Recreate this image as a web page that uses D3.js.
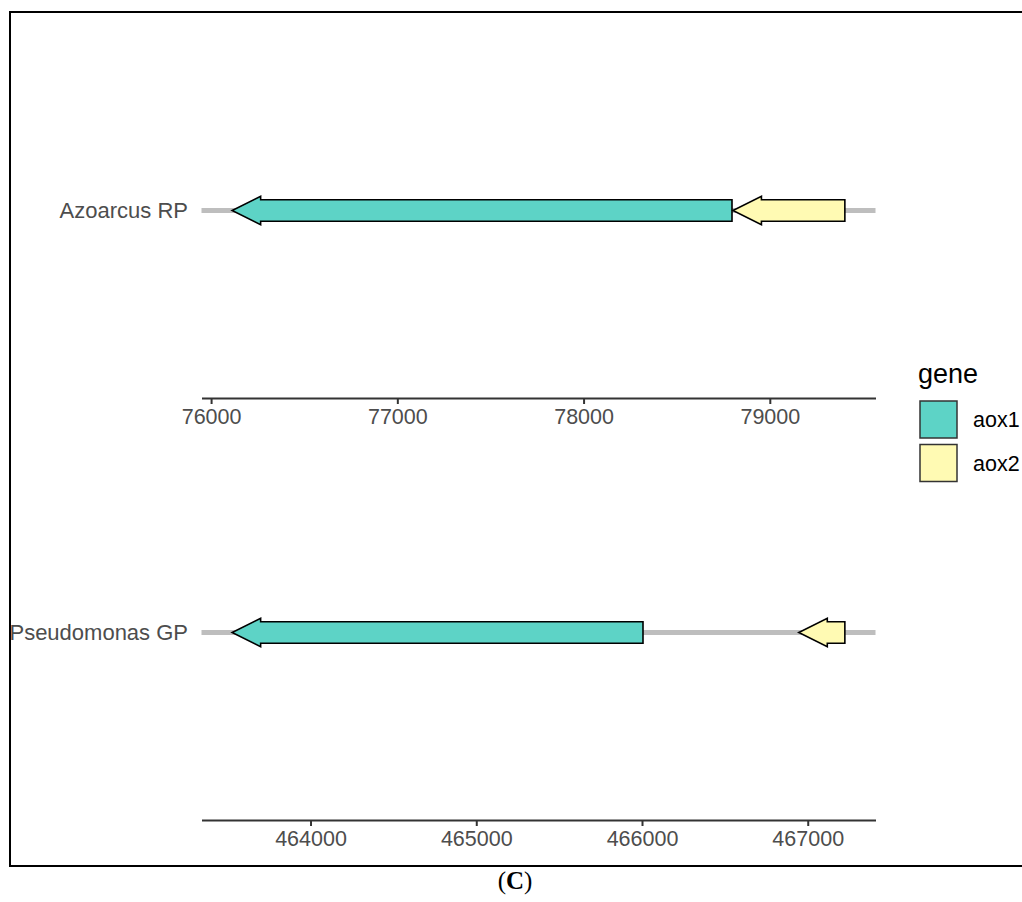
<!DOCTYPE html>
<html>
<head>
<meta charset="utf-8">
<script src="https://cdn.jsdelivr.net/npm/d3@7"></script>
<style>
  html, body { margin: 0; padding: 0; background: #fff; }
  svg { display: block; }
</style>
</head>
<body>
<svg id="chart" width="1022" height="902"></svg>
<script>
// ---- data ----
const molecules = ["Azoarcus RP", "Pseudomonas GP"];
const geneKeys = ["aox1", "aox2"];
const geneColors = ["#5dd3c6", "#fffab3"];
const rowMolecule = ["Azoarcus RP", "Azoarcus RP", "Pseudomonas GP", "Pseudomonas GP"];
const rowGene = ["aox1", "aox2", "aox1", "aox2"];
const rowStart = [78797, 79403, 466006, 467224];
const rowEnd = [76113, 78802, 463527, 466946];

const genes = rowMolecule.map((m, i) => ({ molecule: m, gene: rowGene[i], start: rowStart[i], end: rowEnd[i] }));

const svg = d3.select("#chart");
const font = "'Liberation Sans', Arial, Helvetica, sans-serif";

// frame
svg.append("rect").attr("x", 10).attr("y", 12).attr("width", 1040).attr("height", 854)
  .attr("fill", "none").attr("stroke", "#000").attr("stroke-width", 2);

const color = d3.scaleOrdinal().domain(geneKeys).range(geneColors);

const panelLeft = 201.5, panelRight = 875.5;
const panelTops = [23, 445];
const panelH = 375;

const bodyH = 21.4, headH = 28.5, headL = 28.5;

molecules.forEach((mol, pi) => {
  const data = genes.filter(d => d.molecule === mol);
  const lo = d3.min(data, d => Math.min(d.start, d.end));
  const hi = d3.max(data, d => Math.max(d.start, d.end));
  const pad = (hi - lo) * 0.05;
  const x = d3.scaleLinear().domain([lo - pad, hi + pad]).range([panelLeft, panelRight]);
  const y = d3.scaleBand().domain([mol]).range([panelTops[pi], panelTops[pi] + panelH]);
  const cy = y(mol) + y.bandwidth() / 2;
  const g = svg.append("g");

  // molecule line
  g.append("line").attr("x1", panelLeft).attr("x2", panelRight).attr("y1", cy).attr("y2", cy)
    .attr("stroke", "#bebebe").attr("stroke-width", 5);

  // y label
  g.append("text").attr("x", 188).attr("y", cy).attr("dy", "0.36em")
    .attr("text-anchor", "end").attr("font-family", font).attr("font-size", 22)
    .attr("fill", "#4d4d4d").text(mol);

  // genes
  data.forEach(d => {
    const xs = x(d.start), xe = x(d.end);
    const dir = xs > xe ? 1 : -1;
    const hb = xe + dir * Math.min(headL, Math.abs(xs - xe));
    const pts = [
      [xs, cy - bodyH / 2], [hb, cy - bodyH / 2], [hb, cy - headH / 2], [xe, cy],
      [hb, cy + headH / 2], [hb, cy + bodyH / 2], [xs, cy + bodyH / 2]
    ];
    g.append("path").attr("d", d3.line()(pts) + "Z")
      .attr("fill", color(d.gene)).attr("stroke", "#000").attr("stroke-width", 1.6)
      .attr("stroke-linejoin", "miter");
  });

  // x axis
  const axisY = panelTops[pi] + panelH;
  const ax = g.append("g").attr("transform", `translate(0,${axisY})`)
    .call(d3.axisBottom(x).tickValues(d3.range(Math.ceil((lo - pad) / 1000) * 1000, hi + pad, 1000))
      .tickFormat(d3.format("d")).tickSize(6).tickPadding(5).tickSizeOuter(0));
  ax.select(".domain").attr("stroke", "#333").attr("stroke-width", 2.2);
  ax.selectAll(".tick line").attr("stroke", "#333").attr("stroke-width", 2);
  ax.selectAll(".tick text").attr("font-family", font).attr("font-size", 21.5).attr("fill", "#4d4d4d");
});

// legend
const lg = svg.append("g");
lg.append("text").attr("x", 918).attr("y", 383).attr("font-family", font).attr("font-size", 27)
  .attr("fill", "#000").text("gene");
geneKeys.forEach((k, i) => {
  const ky = 401 + i * 43.5;
  lg.append("rect").attr("x", 920).attr("y", ky).attr("width", 37).attr("height", 37)
    .attr("fill", color(k)).attr("stroke", "#333").attr("stroke-width", 1.5);
  lg.append("text").attr("x", 973).attr("y", ky + 18.5).attr("dy", "0.36em")
    .attr("font-family", font).attr("font-size", 21.5).attr("fill", "#000").text(k);
});

// caption
const cap = svg.append("text").attr("x", 515).attr("y", 889).attr("text-anchor", "middle")
  .attr("font-family", "'Liberation Serif', 'Times New Roman', serif").attr("font-size", 25).attr("fill", "#000");
cap.append("tspan").text("(");
cap.append("tspan").attr("font-weight", "bold").text("C");
cap.append("tspan").text(")");
</script>
</body>
</html>
